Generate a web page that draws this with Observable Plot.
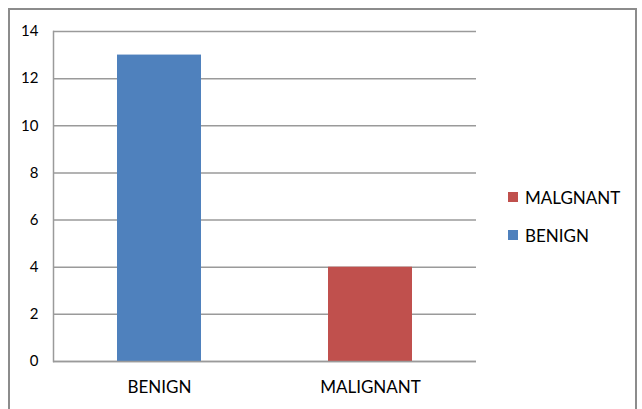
<!DOCTYPE html>
<html>
<head>
<meta charset="utf-8">
<script src="https://cdn.jsdelivr.net/npm/d3@7"></script>
<script src="https://cdn.jsdelivr.net/npm/@observablehq/plot@0.6"></script>
<style>
  html, body { margin: 0; padding: 0; background: #fff; }
  #wrap { position: relative; width: 642px; height: 409px; overflow: hidden; font-family: Lato, "Open Sans", sans-serif; }
  #border { position: absolute; left: 8px; top: 8px; width: 629px; height: 420px; border: 2px solid #8c8c8c; box-sizing: border-box; }
  #chart { position: absolute; left: 0; top: 0; }
  #legend { position: absolute; left: 508px; top: 178px; font-size: 17px; color: #000; }
  .item { display: flex; align-items: center; height: 38px; }
  .sw { width: 10px; height: 10px; margin-right: 7px; }
</style>
</head>
<body>
<div id="wrap">
  <div id="border"></div>
  <div id="chart"></div>
  <div id="legend"></div>
</div>
<script>
const categories = ["BENIGN", "MALIGNANT"];
const values = [13, 4];
const colors = ["#4F81BD", "#C0504D"];
const legendLabels = ["MALGNANT", "BENIGN"];
const legendColors = ["#C0504D", "#4F81BD"];
const yTicks = [0, 2, 4, 6, 8, 10, 12, 14];

const data = categories.map((c, i) => ({category: c, value: values[i], color: colors[i]}));

const chart = Plot.plot({
  width: 642,
  height: 409,
  marginLeft: 53,
  marginRight: 166,
  marginTop: 31,
  marginBottom: 48,
  style: {fontFamily: "Lato, 'Open Sans', sans-serif", fontSize: "15px", color: "#000", background: "transparent"},
  x: {domain: categories, paddingInner: 0.603, paddingOuter: 0.3015, label: null},
  y: {domain: [0, 14], ticks: yTicks, label: null},
  marks: [
    Plot.gridY(yTicks, {stroke: "#9a9a9a", strokeOpacity: 1, strokeWidth: 1.5}),
    Plot.barY(data, {x: "category", y: "value", fill: "color"}),
    Plot.frame({anchor: "left", stroke: "#9a9a9a", strokeWidth: 1.5}),
    Plot.ruleY([0], {stroke: "#9a9a9a", strokeWidth: 1.5}),
    Plot.axisY(yTicks, {tickSize: 0, tickPadding: 15, fontSize: 15}),
    Plot.axisX({tickSize: 0, tickPadding: 19, fontSize: 17})
  ]
});
document.getElementById("chart").appendChild(chart);

const legend = document.getElementById("legend");
legendLabels.forEach((l, i) => {
  const it = document.createElement("div");
  it.className = "item";
  const sw = document.createElement("span");
  sw.className = "sw";
  sw.style.background = legendColors[i];
  const tx = document.createElement("span");
  tx.textContent = l;
  it.appendChild(sw); it.appendChild(tx);
  legend.appendChild(it);
});
</script>
</body>
</html>
